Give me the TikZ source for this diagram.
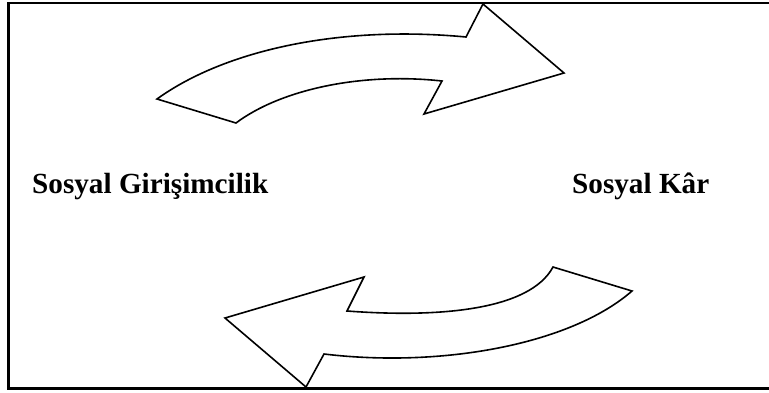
\documentclass[tikz,border=0pt]{standalone}
\usepackage{fontspec}
\setmainfont{Liberation Serif}
\usetikzlibrary{positioning}

\begin{document}
\begin{tikzpicture}[x=1pt, y=-1pt]
    \tikzset{frame/.style={draw, line width=2.6pt},
      bentarrow/.style={draw, line width=1.6pt, line join=miter, fill=white},
      label/.style={font=\fontsize{29.2}{35}\selectfont\bfseries, inner sep=0pt, anchor=base west}
    }

    \useasboundingbox (0,0) rectangle (769,392);

    % frame, open on the right
    \draw[frame] (772,3) -- (8.5,3) -- (8.5,388.5) -- (772,388.5);

    % upper arrow, left to right
    \draw[bentarrow] (157,99) .. controls (225,50) and (340,25) .. (466,37)
      -- (483,4) -- (564,73) -- (424,114) -- (442,81)
      .. controls (360,72) and (280,90) .. (236,123) -- cycle;

    % lower arrow, right to left
    \draw[bentarrow] (553,267) -- (632,291)
      .. controls (570,345) and (440,368) .. (324,354)
      -- (306,387) -- (225,318) -- (364,277) -- (347,311)
      .. controls (440,318) and (530,310) .. (553,267) -- cycle;

    \node[label] (girisim) at (32,193) {Sosyal Girişimcilik};
    \node[label] (kar) at (572,193) {Sosyal Kâr};
\end{tikzpicture}
\end{document}
